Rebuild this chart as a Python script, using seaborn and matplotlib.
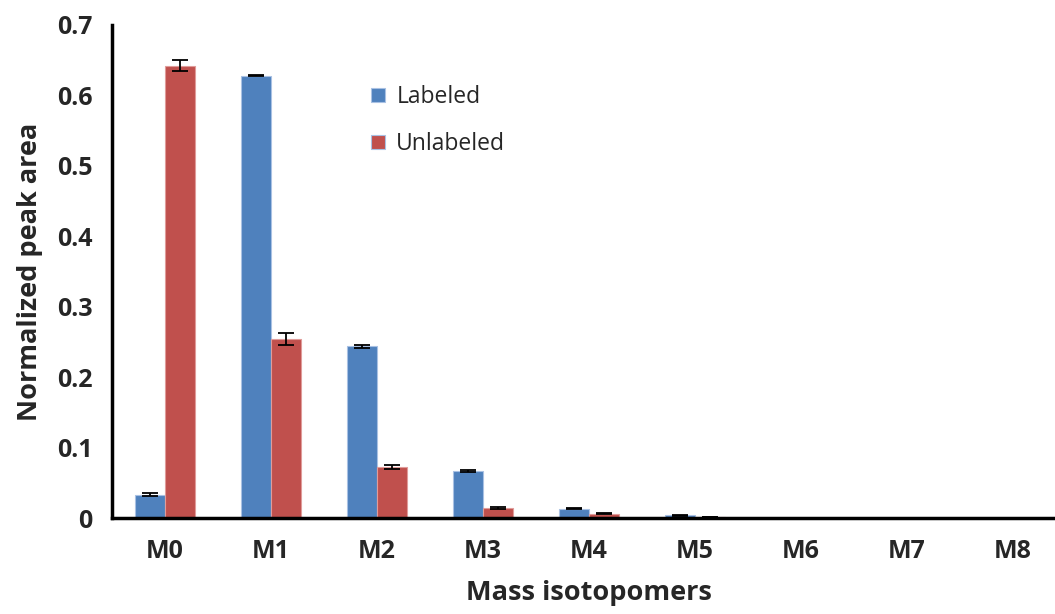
import seaborn as sns
import matplotlib.pyplot as plt
import pandas as pd
import numpy as np

# data
isotopomers = ['M0', 'M1', 'M2', 'M3', 'M4', 'M5', 'M6', 'M7', 'M8']
labeled = [0.033, 0.628, 0.244, 0.067, 0.013, 0.004, 0.0005, 0.0002, 0.0001]
labeled_err = [0.002, 0.001, 0.002, 0.001, 0.0005, 0.0005, 0.0, 0.0, 0.0]
unlabeled = [0.642, 0.254, 0.072, 0.014, 0.006, 0.001, 0.0, 0.0, 0.0]
unlabeled_err = [0.008, 0.009, 0.003, 0.001, 0.001, 0.0, 0.0, 0.0, 0.0]

df = pd.DataFrame({
    'iso': isotopomers * 2,
    'value': labeled + unlabeled,
    'group': ['Labeled'] * len(isotopomers) + ['Unlabeled'] * len(isotopomers),
})

sns.set_style('white')
plt.rcParams['font.family'] = ['Open Sans', 'DejaVu Sans']

fig = plt.figure(figsize=(10.55, 6.14), dpi=100)
# plot area runs a little past the right edge, like the original
ax = fig.add_axes([112 / 1055, 1 - 518 / 614, 954 / 1055, (518 - 25) / 614])

sns.barplot(data=df, x='iso', y='value', hue='group', ax=ax,
            palette=['#4F81BD', '#C0504D'], errorbar=None, width=0.57,
            edgecolor='#a9c1e3', linewidth=0.8, saturation=1)

# lighter edge on the red bars
for bar in ax.containers[1]:
    bar.set_edgecolor('#e09c9a')

# error bars
for cont, err in zip(ax.containers, [labeled_err, unlabeled_err]):
    xs = [b.get_x() + b.get_width() / 2 for b in cont]
    ys = [b.get_height() for b in cont]
    ax.errorbar(xs, ys, yerr=err, fmt='none', ecolor='black',
                elinewidth=1.3, capsize=6, capthick=1.3)

ax.set_xlim(-0.5, len(isotopomers) - 0.5)
ax.set_ylim(0, 0.7)
ax.set_yticks(np.arange(0, 0.71, 0.1))
ax.set_yticklabels(['0', '0.1', '0.2', '0.3', '0.4', '0.5', '0.6', '0.7'])

# category boundaries as tick marks
ax.set_xticks(np.arange(-0.5, len(isotopomers), 1.0), minor=True)
ax.tick_params(axis='x', which='major', length=0, pad=15)
ax.tick_params(axis='x', which='minor', length=7, width=2.5, direction='out')
ax.tick_params(axis='y', length=6, width=2.5, direction='out', pad=8)
for lab in ax.get_xticklabels() + ax.get_yticklabels():
    lab.set_fontsize(18)
    lab.set_fontweight('bold')

for s in ['top', 'right']:
    ax.spines[s].set_visible(False)
for s in ['left', 'bottom']:
    ax.spines[s].set_linewidth(2.5)
    ax.spines[s].set_color('black')

ax.set_xlabel('Mass isotopomers', fontsize=19.5, fontweight='bold', labelpad=12)
ax.set_ylabel('Normalized peak area', fontsize=19.5, fontweight='bold', labelpad=10)

ax.legend(loc='upper left', bbox_to_anchor=(0.25, 0.92), frameon=False,
          fontsize=16.5, handlelength=0.6, handleheight=0.6, labelspacing=1.0,
          handletextpad=0.5, title=None)

fig.savefig('out.png', dpi=100)
